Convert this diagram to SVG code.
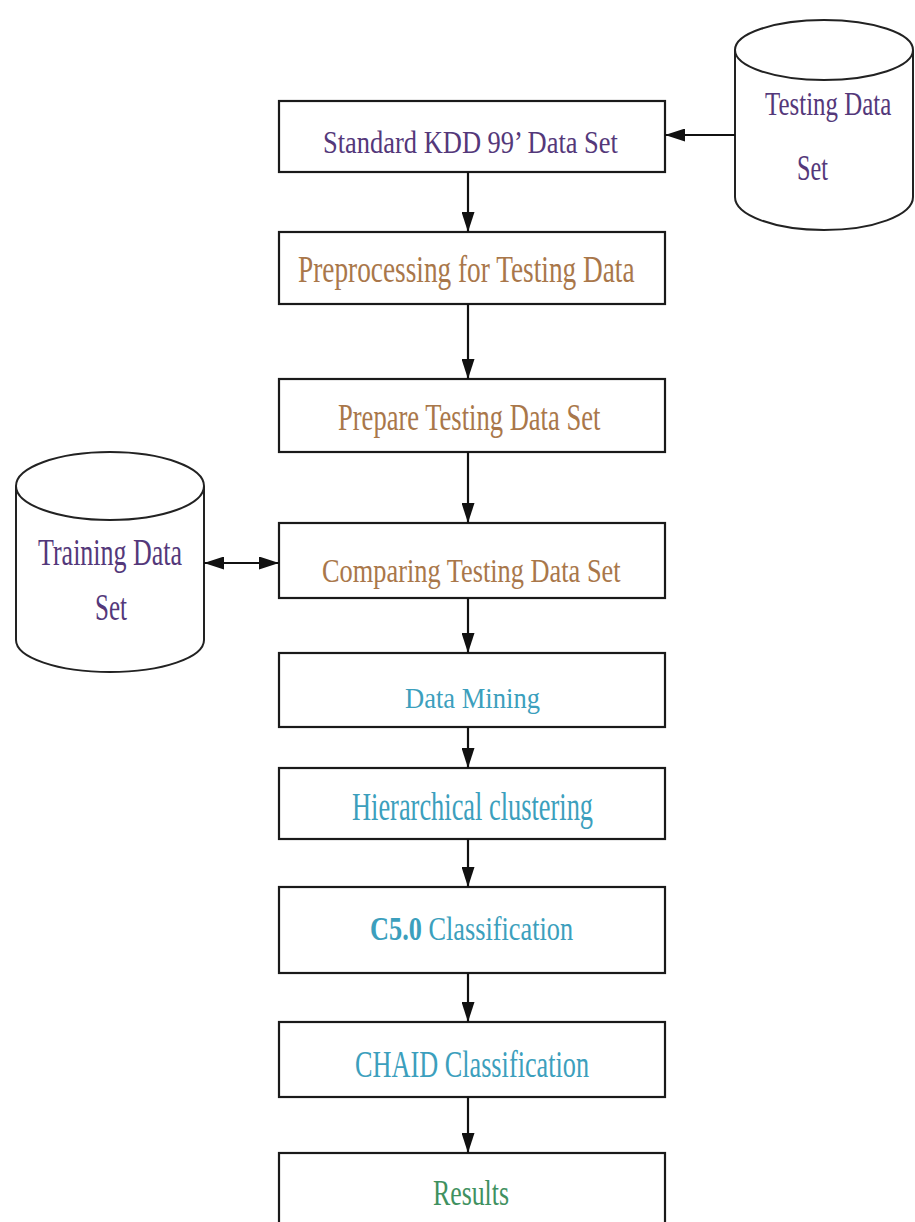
<svg xmlns="http://www.w3.org/2000/svg" width="915" height="1222" viewBox="0 0 915 1222">
<style>
.box{fill:#fff;stroke:#1a1a1a;stroke-width:2.2}
.cyl{fill:#fff;stroke:#222;stroke-width:2}
.t{font-family:"Liberation Serif","Times New Roman",serif;}
.pur{fill:#54387a}
.org{fill:#a9774a}
.cy{fill:#3c9fbd}
.grn{fill:#3f9160}
.con{stroke:#111;stroke-width:2.2;fill:none}
</style>
<defs>
<marker id="ah" markerUnits="userSpaceOnUse" markerWidth="20" markerHeight="13" refX="20" refY="6.5" orient="auto-start-reverse">
<path d="M0,0 L20,6.5 L0,13 z" fill="#111"/>
</marker>
</defs>
<rect width="915" height="1222" fill="#fff"/>

<g id="testing-data-set">
<path class="cyl" d="M735,50 L735,197 A89,33 0 0 0 913,197 L913,50"/>
<ellipse class="cyl" cx="824" cy="50" rx="89" ry="30"/>
<text class="t pur" transform="translate(765,115) scale(0.733,1)" font-size="34">Testing Data</text>
<text class="t pur" transform="translate(797,180) scale(0.674,1)" font-size="36">Set</text>
</g>

<g id="training-data-set">
<path class="cyl" d="M16,486 L16,640 A94,32 0 0 0 204,640 L204,486"/>
<ellipse class="cyl" cx="110" cy="486" rx="94" ry="34"/>
<text class="t pur" transform="translate(38,565) scale(0.684,1)" font-size="38">Training Data</text>
<text class="t pur" transform="translate(95,620) scale(0.659,1)" font-size="38">Set</text>
</g>

<g id="standard-kdd">
<rect class="box" x="279" y="101" width="386" height="71"/>
<text class="t pur" transform="translate(323,153) scale(0.854,1)" font-size="31">Standard KDD 99’ Data Set</text>
</g>
<g id="preprocessing">
<rect class="box" x="279" y="232" width="386" height="72"/>
<text class="t org" transform="translate(298,282) scale(0.719,1)" font-size="38">Preprocessing for Testing Data</text>
</g>
<g id="prepare">
<rect class="box" x="279" y="379" width="386" height="73"/>
<text class="t org" transform="translate(338,430) scale(0.699,1)" font-size="38">Prepare Testing Data Set</text>
</g>
<g id="comparing">
<rect class="box" x="279" y="523" width="386" height="75"/>
<text class="t org" transform="translate(322,582) scale(0.799,1)" font-size="33">Comparing Testing Data Set</text>
</g>
<g id="data-mining">
<rect class="box" x="279" y="653" width="386" height="74"/>
<text class="t cy" transform="translate(405,708) scale(0.916,1)" font-size="29">Data Mining</text>
</g>
<g id="hierarchical">
<rect class="box" x="279" y="768" width="386" height="71"/>
<text class="t cy" transform="translate(352,820) scale(0.66,1)" font-size="40">Hierarchical clustering</text>
</g>
<g id="c50">
<rect class="box" x="279" y="887" width="386" height="86"/>
<text class="t cy" transform="translate(370,940) scale(0.774,1)" font-size="34"><tspan font-weight="bold">C5.0</tspan> Classification</text>
</g>
<g id="chaid">
<rect class="box" x="279" y="1022" width="386" height="75"/>
<text class="t cy" transform="translate(355,1077) scale(0.691,1)" font-size="38">CHAID Classification</text>
</g>
<g id="results">
<rect class="box" x="279" y="1153" width="386" height="100"/>
<text class="t grn" transform="translate(433,1205) scale(0.717,1)" font-size="36">Results</text>
</g>

<g id="connectors">
<line class="con" x1="735" y1="135" x2="665" y2="135" marker-end="url(#ah)"/>
<line class="con" x1="204" y1="563" x2="279" y2="563" marker-start="url(#ah)" marker-end="url(#ah)"/>
<line class="con" x1="468" y1="172" x2="468" y2="232" marker-end="url(#ah)"/>
<line class="con" x1="468" y1="304" x2="468" y2="379" marker-end="url(#ah)"/>
<line class="con" x1="468" y1="452" x2="468" y2="523" marker-end="url(#ah)"/>
<line class="con" x1="468" y1="598" x2="468" y2="653" marker-end="url(#ah)"/>
<line class="con" x1="468" y1="727" x2="468" y2="768" marker-end="url(#ah)"/>
<line class="con" x1="468" y1="839" x2="468" y2="887" marker-end="url(#ah)"/>
<line class="con" x1="468" y1="973" x2="468" y2="1022" marker-end="url(#ah)"/>
<line class="con" x1="468" y1="1097" x2="468" y2="1153" marker-end="url(#ah)"/>
</g>
</svg>
